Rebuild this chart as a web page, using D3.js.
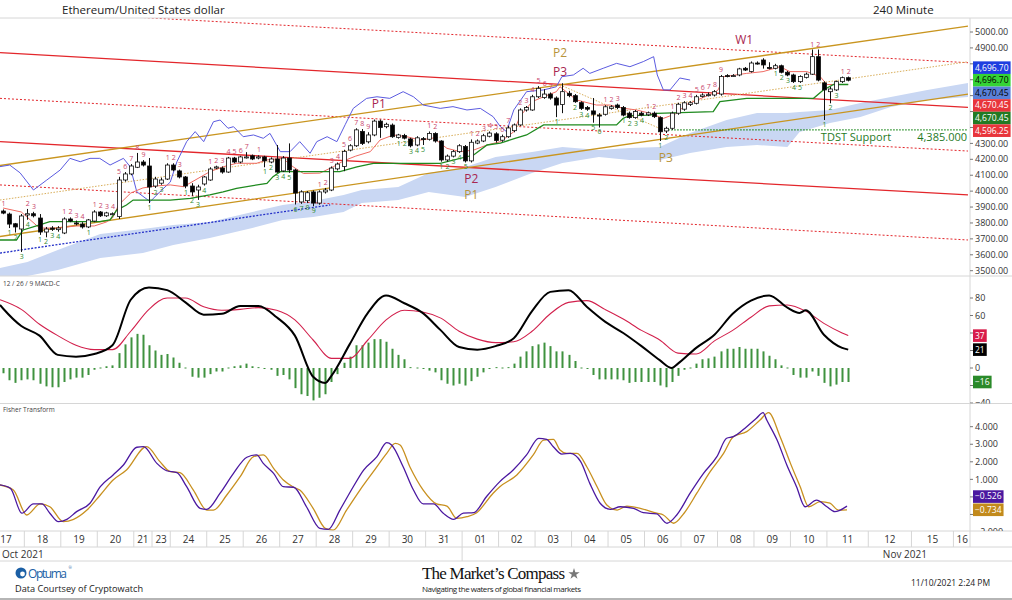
<!DOCTYPE html>
<html>
<head>
<meta charset="utf-8">
<script src="https://cdn.jsdelivr.net/npm/d3@7"></script>
<style>
  body { margin: 0; background: #fff; }
  svg { display: block; font-family: "Open Sans", sans-serif; }
</style>
</head>
<body>
<script>
// ETH/USD 240 minute bars, Oct 17 -> Nov 11 2021
const open = [3875,3856,3795,3762,3850,3858,3831,3743,3768,3758,
3737,3825,3800,3793,3775,3812,3869,3845,3856,3840,
4070,4108,4150,4183,4158,4032,4050,4076,4164,4127,
4089,4032,4007,4045,4070,4145,4145,4120,4208,4183,
4212,4222,4208,4215,4183,4202,4127,4208,4133,3932,
3940,3995,3925,3995,4007,4140,4155,4258,4285,4375,
4310,4353,4440,4405,4415,4338,4350,4328,4290,4330,
4326,4362,4315,4196,4220,4248,4280,4190,4302,4315,
4345,4360,4320,4342,4380,4416,4510,4510,4593,4588,
4610,4585,4545,4615,4600,4556,4525,4504,4478,4483,
4520,4541,4525,4490,4462,4490,4480,4490,4462,4378,
4395,4490,4515,4545,4552,4595,4600,4604,4610,4726,
4725,4730,4772,4752,4805,4824,4777,4772,4788,4747,
4730,4688,4715,4735,4845,4680,4625,4636,4688,4713];
const high = [3885,3865,3800,3856,3888,3870,3856,3775,3780,3780,
3835,3835,3815,3805,3825,3880,3875,3870,3866,4090,
4120,4170,4240,4195,4208,4090,4085,4175,4175,4135,
4095,4050,4040,4095,4150,4160,4155,4215,4215,4222,
4245,4230,4225,4222,4212,4290,4220,4300,4140,4005,
4000,4005,4005,4020,4155,4180,4260,4295,4395,4390,
4370,4450,4450,4430,4425,4360,4360,4335,4345,4340,
4375,4370,4320,4230,4258,4295,4290,4325,4325,4360,
4375,4370,4355,4410,4425,4520,4535,4605,4660,4640,
4620,4595,4678,4630,4610,4565,4535,4585,4490,4540,
4540,4550,4535,4500,4510,4500,4500,4500,4470,4405,
4500,4555,4565,4565,4605,4615,4620,4635,4730,4735,
4735,4775,4780,4815,4815,4835,4810,4800,4795,4755,
4738,4728,4745,4890,4890,4690,4656,4695,4720,4720];
const low = [3855,3768,3740,3618,3820,3835,3725,3710,3750,3745,
3730,3805,3785,3765,3768,3805,3838,3838,3850,3825,
4060,4100,4145,4155,3925,4020,4040,4070,4125,4080,
4018,3970,3945,4035,4065,4138,4110,4115,4175,4175,
4205,4195,4200,4150,4175,4115,4120,4115,3916,3920,
3925,3905,3915,3985,4000,4130,4125,4250,4278,4290,
4300,4345,4335,4395,4335,4330,4325,4275,4282,4290,
4318,4305,4185,4185,4212,4240,4180,4180,4295,4308,
4338,4305,4310,4335,4370,4410,4500,4505,4585,4580,
4575,4465,4490,4590,4555,4510,4505,4430,4400,4475,
4512,4515,4470,4455,4455,4470,4472,4460,4315,4365,
4385,4480,4505,4535,4545,4588,4595,4595,4600,4715,
4718,4722,4755,4745,4795,4770,4765,4765,4740,4722,
4680,4680,4708,4730,4690,4447,4552,4630,4680,4690];
const close = [3862,3793,3775,3844,3858,3845,3743,3762,3760,3768,
3825,3812,3795,3775,3819,3869,3845,3863,3858,4070,
4108,4158,4183,4164,4026,4076,4070,4164,4133,4089,
4032,3995,4026,4089,4139,4152,4120,4208,4183,4215,
4215,4202,4215,4190,4202,4120,4208,4133,3988,3995,
3990,3925,3995,4007,4145,4170,4250,4285,4385,4300,
4353,4440,4400,4420,4342,4353,4333,4285,4335,4326,
4362,4315,4196,4220,4248,4285,4190,4307,4315,4348,
4365,4318,4342,4397,4416,4510,4525,4593,4646,4610,
4585,4541,4625,4600,4562,4520,4515,4483,4475,4530,
4530,4525,4478,4462,4500,4478,4492,4468,4373,4395,
4490,4546,4555,4555,4593,4604,4606,4625,4720,4725,
4726,4768,4761,4805,4803,4793,4775,4788,4747,4730,
4688,4720,4735,4845,4698,4636,4642,4688,4713,4697];

// Ichimoku pieces, [bar, price]
const tenkan = [[0,3894],[3,3869],[6,3768],[9,3768],[12,3781],[15,3781],[17,3806],[18,3831],[19,3913],[21,3988],[23,4020],[25,4032],[27.5,4039],[29.7,4028],[34,4122],[36.2,4153],[38.4,4175],[41.7,4175],[43.4,4196],[46,4206],[47.7,4153],[49.4,4111],[52.1,4113],[54.3,4153],[56,4190],[58,4220],[60.4,4248],[62,4321],[64.2,4353],[66.4,4342],[68.6,4321],[70.8,4334],[73,4269],[75.2,4248],[77.4,4258],[79.6,4290],[81.8,4311],[84,4373],[85,4468],[87,4562],[88.9,4593],[91,4625],[91.6,4656],[94.3,4573],[97.6,4541],[99.8,4541],[102,4521],[104.2,4510],[106.4,4489],[108.6,4457],[110.8,4489],[112.2,4541],[116.8,4615],[117.6,4636],[118.5,4719],[122.3,4740],[125,4751],[127.8,4782],[129.4,4751],[132.2,4751],[134.4,4719],[135.5,4670],[139,4670]];
const kijun = [[-0.5,3693],[2.2,3693],[3.3,3756],[5.5,3781],[7.7,3808],[15.9,3808],[17.6,3819],[18.7,3881],[20.3,3913],[21.4,3944],[27.5,3944],[30.8,3955],[34,3976],[36.2,3996],[38.4,4018],[43.4,4049],[44.4,4091],[45.6,4122],[55.4,4122],[58.2,4153],[60.9,4175],[71.9,4175],[77.4,4227],[79.6,4290],[81.8,4301],[84.2,4332],[86.1,4353],[88.9,4416],[100.9,4416],[102,4458],[103.1,4474],[106.4,4478],[107.5,4489],[116.8,4499],[117.9,4562],[122.3,4583],[133.3,4583],[134.9,4636],[136.6,4670],[139,4670]];
const chikou = [[-0.5,4154],[1.1,4164],[2.8,4115],[5,4007],[7.2,4070],[9.4,4133],[11,4206],[12.7,4185],[14.3,4206],[15.9,4206],[17.6,4164],[19.8,4206],[20.9,4154],[22,3996],[24.2,3934],[25.8,3996],[27.5,4057],[28.6,4185],[30.2,4311],[31.6,4374],[33,4311],[34.6,4436],[35.7,4447],[37,4395],[37.9,4405],[39.5,4342],[41.2,4353],[42.8,4332],[43.9,4363],[45.6,4248],[47.2,4248],[48.8,4311],[50.5,4238],[51.6,4311],[53.3,4342],[54.9,4311],[56.3,4420],[57.6,4520],[59.8,4583],[61.5,4593],[63.6,4583],[65.8,4625],[67.5,4593],[69.1,4541],[71.9,4520],[74,4531],[76.3,4510],[78.5,4520],[80.6,4468],[81.8,4405],[82.8,4374],[84,4510],[86.1,4625],[88.9,4636],[91,4656],[91.9,4719],[93.8,4730],[95.4,4772],[96.5,4740],[98.7,4772],[100.9,4803],[103.1,4782],[105.3,4814],[107,4845],[107.6,4730],[108.6,4636],[109.7,4636],[111.3,4711],[113,4698]];
// cloud: [bar, upper, lower]
const cloud = [[-0.5,3517,3467],[4,3555,3467],[9,3630,3504],[16,3731,3580],[23,3762,3611],[28,3787,3661],[34,3806,3706],[41,3869,3768],[46,3913,3819],[51,3938,3837],[56,3976,3869],[59,4007,3925],[65,4026,3944],[70,4114,3995],[76,4152,3963],[81,4215,4026],[87,4246,4114],[92,4277,4177],[98,4258,4215],[103,4271,4196],[108,4277,4196],[113,4365,4240],[119,4447,4277],[124,4491,4290],[129,4491,4277],[131,4497,4372],[136,4510,4428],[141,4554,4466],[146,4592,4529],[152,4636,4573],[158.7,4680,4592]];

// trend lines [bar1, price1, bar2, price2]
const goldFork = [[0,4161,159.2,5037],[0,3715,159.2,4610]];
const goldMedian = [0,3944,159.2,4813];
const goldHandle = [92.1,4668,109.7,4374];
const redFork = [[0,4870,159.2,4526],[0,4311,159.2,3976]];
const redDotted = [[0,5140,159.2,4807],[0,4583,159.2,4252],[0,4039,159.2,3693]];
const blueTrend = [0,3611,54.3,3913];
const tdstLevel = 4385, tdstFrom = 109.4;

const pivotLabels = [
  {text:"P1", bar:62.3, price:4548, fork:"red"},
  {text:"P2", bar:77.5, price:4078, fork:"red"},
  {text:"P3", bar:92.1, price:4749, fork:"red"},
  {text:"W1", bar:122.4, price:4950, fork:"red"},
  {text:"P2", bar:92.1, price:4868, fork:"gold"},
  {text:"P1", bar:77.5, price:3980, fork:"gold"},
  {text:"P3", bar:109.5, price:4210, fork:"gold"}];

// TD sequential counts [bar, count]
const tdUp = [[0,1],[4,2],[5,3],[10,1],[11,2],[12,3],[13,4],[15,1],[16,2],[17,3],[18,4],[19,5],[20,6],[21,7],[22,8],[23,9],[27,1],[28,2],[29,3],[34,1],[35,2],[36,3],[37,4],[38,5],[39,6],[40,7],[42,1],[52,1],[53,2],[54,3],[55,4],[56,5],[57,6],[58,7],[59,8],[60,9],[70,1],[71,2],[77,1],[78,2],[79,3],[80,4],[81,5],[82,6],[83,7],[85,2],[86,3],[87,4],[88,5],[89,6],[90,7],[99,1],[100,2],[101,3],[106,1],[107,2],[110,1],[111,2],[112,3],[113,4],[114,5],[115,6],[116,7],[117,8],[118,9],[133,1],[134,2],[138,1],[139,2]];
const tdDown = [[1,1],[2,2],[3,3],[4,4],[6,1],[7,2],[8,3],[9,4],[14,1],[24,1],[25,2],[26,3],[30,1],[31,2],[32,3],[33,4],[43,1],[44,2],[45,3],[46,4],[47,5],[48,6],[49,7],[50,8],[51,9],[65,1],[66,2],[67,3],[68,4],[69,5],[72,1],[73,2],[74,3],[75,4],[76,5],[91,1],[94,2],[95,3],[96,4],[97,5],[98,6],[102,1],[103,2],[104,3],[105,4],[108,1],[109,2],[127,1],[128,2],[129,3],[130,4],[131,5],[135,1],[136,2],[137,3]];

// MACD 12/26/9  [bar, value]
const macdLine = [[-0.5,72],[0,68],[3,48],[6,37],[9,15],[12,13],[15,16],[18,26],[21,78],[24,92],[27,89],[30,75],[33,61],[36,62],[39,71],[42,71],[45,58],[48,37],[51,-10],[53,-17],[54,-9],[57,27],[60,63],[63,83],[66,74],[69,63],[72,43],[75,24],[78,21],[81,25],[84,34],[87,65],[90,87],[93,89],[96,70],[99,53],[102,40],[105,25],[108,9],[110,0],[111,5],[114,23],[117,38],[120,62],[123,77],[126,83],[129,69],[131,63],[132,66],[135,38],[138,23],[139,21]];
const macdSignal = [[-0.5,78],[3,67],[6,50],[9,37],[12,26],[15,21],[18,21],[21,42],[24,67],[27,80],[30,80],[33,70],[36,66],[39,67],[42,69],[45,66],[48,55],[51,32],[54,11],[57,11],[60,32],[63,55],[66,66],[69,64],[72,57],[75,42],[78,33],[81,29],[84,30],[87,42],[90,62],[93,75],[96,77],[99,67],[102,56],[105,43],[108,32],[111,17],[114,16],[117,31],[120,43],[123,58],[126,71],[129,72],[132,65],[135,51],[138,40],[139,37]];
const macdHist = [-6,-14,-17,-14,-13,-14,-18,-21,-22,-22,
-16,-13,-11,-11,-8,-2,0,2,3,17,
27,35,39,38,26,20,15,16,12,6,
0,-10,-11,-11,-7,-4,-4,0,2,3,
5,2,1,-1,-2,-9,-8,-13,-23,-30,
-32,-37,-34,-30,-16,-7,6,13,26,26,
29,33,33,30,22,15,10,1,0,-1,
-3,-5,-14,-18,-20,-18,-20,-15,-10,-5,
-1,1,0,1,5,13,19,25,27,29,
25,19,19,15,8,0,-1,-8,-13,-13,
-13,-13,-14,-17,-16,-16,-16,-16,-20,-22,
-16,-9,-2,0,5,10,11,13,19,22,
22,24,22,22,22,19,14,10,3,0,
-8,-11,-11,-4,-9,-17,-21,-19,-16,-16];

// Fisher transform [bar, value]
const fisher = [[-0.5,0.68],[1.2,0.49],[3.1,-0.93],[5,-0.40],[6.4,-0.40],[7.7,-0.93],[9.1,-1.41],[10.5,-1.28],[12.1,-0.84],[14.3,-0.36],[16,0.58],[18.1,1.25],[19.8,1.82],[22,2.83],[23.1,2.86],[25.3,1.91],[26.9,1.49],[28.6,1.38],[30.2,0.58],[32.4,-0.65],[33.5,-0.71],[35.7,0.21],[37.9,1.34],[40.1,2.26],[41.7,2.39],[42.8,1.91],[44.5,1.34],[46.1,0.58],[47.8,0.55],[49.9,-0.56],[52.1,-1.79],[53.5,-1.85],[55.4,-0.75],[57.6,0.58],[59.3,1.53],[61.5,2.29],[63.1,3.09],[63.9,2.96],[65.8,1.72],[67.5,0.39],[69.1,-0.40],[70.8,-0.40],[72.4,-0.93],[74.1,-1.28],[75.7,-0.93],[77.4,-0.90],[79.5,0.01],[81.7,0.87],[83.9,1.53],[86.1,2.39],[88.1,3.34],[89.4,3.28],[90.5,2.86],[91.9,2.44],[93.3,2.48],[95,2.01],[96.5,0.77],[98.2,-0.36],[99.9,-0.71],[101.5,-0.56],[103.7,-0.65],[105.3,-0.90],[107.5,-0.97],[109.2,-1.50],[110.8,-1.03],[113,0.21],[115.2,1.34],[117.4,2.29],[119,3.34],[120.1,3.43],[122.3,4.00],[123.9,4.48],[125,4.80],[125.6,4.38],[127.3,3.24],[128.9,1.82],[130.5,0.58],[131.9,-0.56],[133.8,-0.18],[135.5,-0.56],[136.8,-0.84],[138.8,-0.526]];
const trigger = [[-0.5,0.68],[1.7,0.39],[3.9,-1.03],[6.1,-0.40],[7.7,-0.56],[9.9,-1.41],[11.6,-1.28],[13.8,-0.75],[16,0.11],[18.1,0.96],[20.3,1.53],[23.6,2.86],[25.8,2.01],[27.5,1.44],[29.1,1.38],[31.3,0.39],[33.5,-0.75],[34.6,-0.75],[36.8,0.11],[39,1.15],[41.2,2.29],[42.8,2.39],[44.5,1.63],[46.1,0.96],[47.8,0.55],[48.8,0.39],[51,-0.65],[53,-1.79],[54.3,-1.89],[56.5,-0.75],[58.7,0.39],[60.9,1.44],[63.1,2.48],[64.5,3.05],[65.3,2.96],[66.9,1.72],[69.1,0.39],[71.3,-0.40],[73,-0.52],[74.6,-1.22],[76.3,-1.13],[77.9,-0.90],[80.6,0.21],[81.7,0.58],[84.5,1.25],[87.2,2.39],[88.9,3.24],[90.5,3.28],[91.6,2.67],[92.7,2.48],[94.4,2.48],[96,1.72],[97.7,0.58],[99.3,-0.46],[101,-0.75],[102.6,-0.52],[104.8,-0.65],[107.5,-0.93],[108.6,-1.03],[110.3,-1.50],[112,-0.93],[114.1,0.21],[116.3,1.44],[118.5,2.48],[120.1,3.43],[122.3,3.72],[124.5,4.38],[125.9,4.80],[127.8,3.43],[129.5,1.91],[131.1,0.58],[132.5,-0.56],[134.4,-0.27],[136,-0.36],[137.4,-0.75],[138.8,-0.734]];

// axis labels
const dayLabels = ["17","18","19","20","21","23","24","25","26","27","28","29","30","31","01","02","03","04","05","06","07","08","09","10","11","12","15","16"];
const dayStarts = [-2,4,10,16,22,25,28,34,40,46,52,58,64,70,76,82,88,94,100,106,112,118,124,130,136,142.8,149.9,156.8];
const dayEnd = 159.7;
const months = [{label:"Oct 2021", bar:-2}, {label:"Nov 2021", bar:145.2}];
const monthBreak = 76;
const priceTicks = d3.range(3500, 5001, 100);
const macdTicks = [-40,-20,0,20,40,60,80];
const fisherTicks = [-2,-1,0,1,2,3,4];
const priceTags = [4696.70, 4696.70, 4670.45, 4670.45, 4670.45, 4596.25];
const macdTags = [37, 21, -16];
const fisherTags = [-0.526, -0.734];

// ---------------------------------------------------------------
const W = 1012, H = 600;
const svg = d3.select("body").append("svg").attr("width", W).attr("height", H);

const x = d3.scaleLinear().domain([0, 159.2]).range([0, 968]);
const xc = b => x(b + 0.5);
const yP = d3.scaleLinear().domain([3500, 5000]).range([270.7, 32]);
const yM = d3.scaleLinear().domain([0, 80]).range([368, 298]);
const yF = d3.scaleLinear().domain([0, 4]).range([496.9, 426.7]);

const defs = svg.append("defs");
function clip(id, y0, y1, w) {
  defs.append("clipPath").attr("id", id).append("rect")
    .attr("x", 0).attr("y", y0).attr("width", w).attr("height", y1 - y0);
  return "url(#" + id + ")";
}
const mainG = svg.append("g").attr("clip-path", clip("cMain", 18, 276, 969));
const macdG = svg.append("g").attr("clip-path", clip("cMacd", 276, 403, 969));
const fishG = svg.append("g").attr("clip-path", clip("cFish", 403, 531, 969));

// panel frames
const grid = "#d6d6d6";
[18, 276, 403.5, 531, 547, 561].forEach(yy => {
  svg.append("line").attr("x1", 0).attr("x2", W).attr("y1", yy).attr("y2", yy)
    .attr("stroke", grid).attr("stroke-width", 1);
});
svg.append("line").attr("x1", 970).attr("x2", 970).attr("y1", 18).attr("y2", 547).attr("stroke", grid);
svg.append("line").attr("x1", 0).attr("x2", W).attr("y1", 599).attr("y2", 599).attr("stroke", "#b5b5b5").attr("stroke-width", 2);

// ---- main panel ----
mainG.append("path").datum(cloud)
  .attr("fill", "#c9d7f3")
  .attr("d", d3.area().x(d => xc(d[0])).y0(d => yP(d[2])).y1(d => yP(d[1])));

function seg(g, s, color, width, dash) {
  g.append("line")
    .attr("x1", x(s[0])).attr("y1", yP(s[1])).attr("x2", x(s[2])).attr("y2", yP(s[3]))
    .attr("stroke", color).attr("stroke-width", width)
    .attr("stroke-dasharray", dash || null);
}
redDotted.forEach(s => seg(mainG, s, "#e3262b", 1, "2,2"));
redFork.forEach(s => seg(mainG, s, "#e3262b", 1.3));
seg(mainG, goldMedian, "#d9ae5a", 1, "1.5,1.5");
seg(mainG, goldHandle, "#d9ae5a", 1, "1.5,1.5");
goldFork.forEach(s => seg(mainG, s, "#c9951f", 1.3));
seg(mainG, blueTrend, "#2430c8", 1.3, "2,1.5");
seg(mainG, [tdstFrom, tdstLevel, 159.2, tdstLevel], "#1f8a1f", 1.2, "1.5,1.5");

const pline = d3.line().x(d => xc(d[0])).y(d => yP(d[1]));
mainG.append("path").datum(chikou).attr("d", pline).attr("fill", "none").attr("stroke", "#5b5be0").attr("stroke-width", 1);
mainG.append("path").datum(tenkan).attr("d", pline).attr("fill", "none").attr("stroke", "#f06a62").attr("stroke-width", 1);
mainG.append("path").datum(kijun).attr("d", pline).attr("fill", "none").attr("stroke", "#1f8a1f").attr("stroke-width", 1.3);

// candles
const bars = d3.range(open.length);
mainG.selectAll(".wick").data(bars).enter().append("line")
  .attr("x1", i => Math.round(xc(i)) + 0.5).attr("x2", i => Math.round(xc(i)) + 0.5)
  .attr("y1", i => yP(high[i])).attr("y2", i => yP(low[i]))
  .attr("stroke", "#111").attr("stroke-width", 1);
mainG.selectAll(".body").data(bars).enter().append("rect")
  .attr("x", i => Math.round(xc(i)) - 1.5)
  .attr("width", 4)
  .attr("y", i => yP(Math.max(open[i], close[i])))
  .attr("height", i => Math.max(1, Math.abs(yP(open[i]) - yP(close[i]))))
  .attr("fill", i => close[i] >= open[i] ? "#fff" : "#000")
  .attr("stroke", "#111").attr("stroke-width", 0.8);

// TD counts
mainG.selectAll(".tdu").data(tdUp).enter().append("text")
  .attr("x", d => xc(d[0]) + 0.5).attr("y", d => yP(high[d[0]]) - 3)
  .attr("text-anchor", "middle").attr("font-size", 7).attr("fill", "#c8456a")
  .text(d => d[1]);
mainG.selectAll(".tdd").data(tdDown).enter().append("text")
  .attr("x", d => xc(d[0]) + 0.5).attr("y", d => yP(low[d[0]]) + 7)
  .attr("text-anchor", "middle").attr("font-size", 7).attr("fill", "#2f8a2f")
  .text(d => d[1]);

// pitchfork labels
mainG.selectAll(".piv").data(pivotLabels).enter().append("text")
  .attr("x", d => x(d.bar)).attr("y", d => yP(d.price))
  .attr("dy", "0.35em").attr("text-anchor", "middle").attr("font-size", 12)
  .attr("fill", d => d.fork === "red" ? "#a8264f" : "#b8943a")
  .text(d => d.text);

mainG.append("text").attr("x", x(135)).attr("y", yP(tdstLevel) + 11)
  .attr("font-size", 11).attr("fill", "#1f7a1f").text("TDST Support");
mainG.append("text").attr("x", 967).attr("y", yP(tdstLevel) + 11)
  .attr("text-anchor", "end").attr("font-size", 11).attr("fill", "#1f7a1f").text("4,385.000");

// ---- MACD panel ----
macdG.selectAll(".hist").data(bars).enter().append("rect")
  .attr("x", i => Math.round(xc(i)) - 0.5)
  .attr("width", 2)
  .attr("y", i => Math.min(yM(0), yM(macdHist[i])) - (macdHist[i] === 0 ? 0.5 : 0))
  .attr("height", i => Math.max(1, Math.abs(yM(macdHist[i]) - yM(0))))
  .attr("fill", "#3f923f");
const mline = d3.line().x(d => xc(d[0])).y(d => yM(d[1])).curve(d3.curveMonotoneX);
macdG.append("path").datum(macdSignal).attr("d", mline).attr("fill", "none").attr("stroke", "#d2204c").attr("stroke-width", 1.1);
macdG.append("path").datum(macdLine).attr("d", mline).attr("fill", "none").attr("stroke", "#000").attr("stroke-width", 2);
svg.append("text").attr("x", 3).attr("y", 286).attr("font-size", 6.5).attr("fill", "#444").text("12 / 26 / 9 MACD-C");

// ---- Fisher panel ----
const fline = d3.line().x(d => xc(d[0])).y(d => yF(d[1])).curve(d3.curveMonotoneX);
fishG.append("path").datum(trigger).attr("d", fline).attr("fill", "none").attr("stroke", "#c8901f").attr("stroke-width", 1.3);
fishG.append("path").datum(fisher).attr("d", fline).attr("fill", "none").attr("stroke", "#4b18a0").attr("stroke-width", 1.3);
svg.append("text").attr("x", 3).attr("y", 412).attr("font-size", 6.5).attr("fill", "#444").text("Fisher Transform");

// ---- value tags positions (stacked so they don't collide) ----
const priceY = priceTags.map((v, i) => yP(priceTags[0]) + (i - 1) * 12.6);
let prevY = Infinity;
const macdY = macdTags.map(v => yM(v)).reverse().map(yy => (prevY = Math.min(yy, prevY - 13))).reverse();
prevY = Infinity;
const fishY = fisherTags.map(v => yF(v)).reverse().map(yy => (prevY = Math.min(yy, prevY - 13.2))).reverse();

// ---- right axes (tick labels hidden under a tag are skipped) ----
function rightAxis(ticks, scale, fmt, y0, y1, id, tagYs) {
  const g = svg.append("g").attr("clip-path", clip(id, y0, y1, W));
  ticks.forEach(t => {
    const yy = scale(t);
    g.append("line").attr("x1", 970).attr("x2", 973).attr("y1", yy).attr("y2", yy).attr("stroke", "#777");
    if (tagYs.some(ty => Math.abs(ty - yy) < 10)) return;
    g.append("text").attr("x", 975).attr("y", yy).attr("dy", "0.35em")
      .attr("font-size", 9).attr("fill", "#333").text(fmt(t));
  });
}
rightAxis(priceTicks, yP, d3.format(".2f"), 18, 276, "aP", priceY);
rightAxis(macdTicks, yM, d3.format("d"), 276, 403.5, "aM", macdY);
rightAxis(fisherTicks, yF, d3.format(".3f"), 403.5, 531, "aF", fishY);

function tag(yy, label, bg, fg, minW) {
  const g = svg.append("g");
  const t = g.append("text").attr("x", 975).attr("y", yy).attr("dy", "0.34em")
    .attr("font-size", 8.5).attr("fill", fg).text(label);
  const w = Math.max(minW || 0, t.node().getComputedTextLength() + 4);
  g.insert("rect", "text").attr("x", 973).attr("y", yy - 6.3).attr("width", w).attr("height", 12.6).attr("fill", bg);
}
const fmtPrice = d3.format(",.2f");
const priceColors = [["#1f3fe0","#fff"],["#35d335","#000"],["#5b80d8","#000"],["#e8353b","#fff"],["#237a23","#fff"],["#e8353b","#fff"]];
priceTags.forEach((v, i) => tag(priceY[i], fmtPrice(v), priceColors[i][0], priceColors[i][1], 37));
const macdColors = ["#d81c4a", "#000", "#2a8a2a"];
macdTags.forEach((v, i) => tag(macdY[i], d3.format("d")(v), macdColors[i], "#fff"));
const fishColors = ["#4b18a0", "#c28a1c"];
fisherTags.forEach((v, i) => tag(fishY[i], d3.format(".3f")(v), fishColors[i], "#fff"));

// ---- time axis ----
const xa = svg.append("g");
dayLabels.forEach((lab, i) => {
  const s = dayStarts[i], e = i < dayStarts.length - 1 ? dayStarts[i + 1] : dayEnd;
  if (s > 0) xa.append("line").attr("x1", x(s)).attr("x2", x(s)).attr("y1", 531).attr("y2", 547).attr("stroke", grid);
  xa.append("text").attr("x", x((s + e) / 2)).attr("y", 539).attr("dy", "0.35em")
    .attr("text-anchor", "middle").attr("font-size", 10).attr("fill", "#333").text(lab);
});
xa.append("line").attr("x1", x(monthBreak)).attr("x2", x(monthBreak)).attr("y1", 547).attr("y2", 561).attr("stroke", grid);
months.forEach(m => {
  xa.append("text").attr("x", Math.max(2, x(m.bar))).attr("y", 554).attr("dy", "0.35em")
    .attr("font-size", 10).attr("fill", "#333").text(m.label);
});

// ---- titles & footer ----
svg.append("text").attr("x", 62).attr("y", 14).attr("font-size", 11.5).attr("fill", "#222").text("Ethereum/United States dollar");
svg.append("text").attr("x", 873).attr("y", 14).attr("font-size", 11.5).attr("fill", "#222").text("240 Minute");

svg.append("circle").attr("cx", 21).attr("cy", 573).attr("r", 5.5).attr("fill", "#1b5fa5");
svg.append("circle").attr("cx", 22.5).attr("cy", 574).attr("r", 2.4).attr("fill", "#fff");
svg.append("text").attr("x", 28).attr("y", 577.5).attr("font-size", 12).attr("fill", "#1b5fa5")
  .attr("textLength", 39).text("Optuma");
svg.append("text").attr("x", 68.5).attr("y", 569).attr("font-size", 4).attr("fill", "#1b5fa5").text("®");
svg.append("text").attr("x", 15).attr("y", 592).attr("font-size", 9.2).attr("fill", "#222").text("Data Courtsey of Cryptowatch");

svg.append("text").attr("x", 422).attr("y", 579).attr("font-family", "Liberation Serif, serif")
  .attr("font-size", 17).attr("fill", "#111").attr("textLength", 143).text("The Market\u2019s Compass");
svg.append("path").attr("transform", "translate(574,574)")
  .attr("d", d3.symbol(d3.symbolStar, 40)()).attr("fill", "#777");
svg.append("text").attr("x", 422).attr("y", 592).attr("font-size", 8).attr("fill", "#222")
  .attr("textLength", 159).text("Navigating the waters of global financial markets");
svg.append("text").attr("x", 911).attr("y", 586).attr("font-size", 8.5).attr("fill", "#222").text("11/10/2021 2:24 PM");
</script>
</body>
</html>
